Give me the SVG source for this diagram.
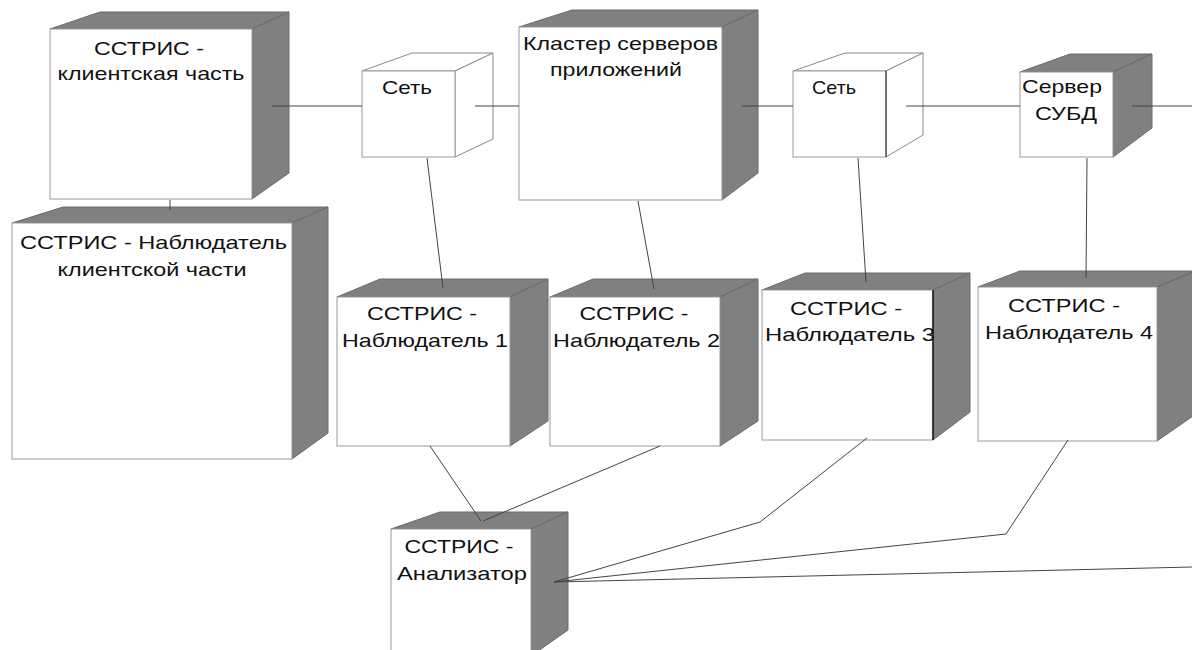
<svg xmlns="http://www.w3.org/2000/svg" width="1192" height="650" viewBox="0 0 1192 650">
<style>
.front{fill:#ffffff;stroke:#9a9a9a;stroke-width:1}
.shade{fill:#808080;stroke:#6a6a6a;stroke-width:1}
.open{fill:#ffffff;stroke:#8a8a8a;stroke-width:1}
.lbl{font-family:"Liberation Sans",Arial,sans-serif;font-size:19px;fill:#111}
.mid{text-anchor:middle}
.conn line,.conn polyline{stroke:#444;stroke-width:1;fill:none}
</style>
<rect width="1192" height="650" fill="#ffffff"/>

<g id="client">
<polygon class="shade" points="50,29 100,12 289,12 252,29"/>
<polygon class="shade" points="252,29 289,12 289,173 252,199"/>
<rect class="front" x="50" y="29" width="202" height="170"/>
<text class="lbl mid" x="149" y="55" textLength="110" lengthAdjust="spacingAndGlyphs">ССТРИС -</text>
<text class="lbl mid" x="151" y="80" textLength="187" lengthAdjust="spacingAndGlyphs">клиентская часть</text>
</g>

<g id="net1">
<polygon class="open" points="362,71 412,53 493,53 455,71"/>
<polygon class="open" points="455,71 493,53 493,139 455,157"/>
<rect class="front" x="362" y="71" width="93" height="86"/>
<text class="lbl mid" x="407" y="94" textLength="50" lengthAdjust="spacingAndGlyphs">Сеть</text>
</g>

<g id="cluster">
<polygon class="shade" points="519,27 572,10 758,10 722,27"/>
<polygon class="shade" points="722,27 758,10 758,173 722,200"/>
<rect class="front" x="519" y="27" width="203" height="173"/>
<text class="lbl" x="523" y="50" textLength="195" lengthAdjust="spacingAndGlyphs">Кластер серверов</text>
<text class="lbl mid" x="616" y="76" textLength="132" lengthAdjust="spacingAndGlyphs">приложений</text>
</g>

<g id="net2">
<polygon class="open" points="793,71 845,53 923,53 886,71"/>
<polygon class="open" points="886,71 923,53 923,135 886,157"/>
<rect class="front" x="793" y="71" width="93" height="86"/>
<line x1="886" y1="71" x2="886" y2="157" stroke="#222" stroke-width="1"/>
<text class="lbl mid" x="834" y="94" textLength="44" lengthAdjust="spacingAndGlyphs">Сеть</text>
</g>

<g id="dbserver">
<polygon class="shade" points="1020,72 1070,54 1152,54 1113,72"/>
<polygon class="shade" points="1113,72 1152,54 1152,128 1113,157"/>
<rect class="front" x="1020" y="72" width="93" height="85"/>
<text class="lbl" x="1022" y="93" textLength="80" lengthAdjust="spacingAndGlyphs">Сервер</text>
<text class="lbl mid" x="1066" y="120" textLength="62" lengthAdjust="spacingAndGlyphs">СУБД</text>
</g>

<g id="obsClient">
<polygon class="shade" points="12,223 63,207 328,207 292,223"/>
<polygon class="shade" points="292,223 328,207 328,433 292,459"/>
<rect class="front" x="12" y="223" width="280" height="236"/>
<text class="lbl" x="20" y="249" textLength="267" lengthAdjust="spacingAndGlyphs">ССТРИС - Наблюдатель</text>
<text class="lbl mid" x="152" y="276" textLength="189" lengthAdjust="spacingAndGlyphs">клиентской части</text>
</g>

<g id="obs1">
<polygon class="shade" points="337,297 380,279 548,279 510,297"/>
<polygon class="shade" points="510,297 548,279 548,421 510,446"/>
<rect class="front" x="337" y="297" width="173" height="149"/>
<text class="lbl mid" x="422" y="320" textLength="110" lengthAdjust="spacingAndGlyphs">ССТРИС -</text>
<text class="lbl" x="342" y="347" textLength="166" lengthAdjust="spacingAndGlyphs">Наблюдатель 1</text>
</g>

<g id="obs2">
<polygon class="shade" points="550,297 593,279 758,279 720,297"/>
<polygon class="shade" points="720,297 758,279 758,421 720,446"/>
<rect class="front" x="550" y="297" width="170" height="149"/>
<text class="lbl mid" x="634" y="320" textLength="109" lengthAdjust="spacingAndGlyphs">ССТРИС -</text>
<text class="lbl" x="553" y="347" textLength="167" lengthAdjust="spacingAndGlyphs">Наблюдатель 2</text>
</g>

<g id="obs3">
<polygon class="shade" points="762,290 805,273 970,273 933,290"/>
<polygon class="shade" points="933,290 970,273 970,412 933,440"/>
<rect class="front" x="762" y="290" width="171" height="150"/>
<line x1="933" y1="290" x2="933" y2="440" stroke="#111" stroke-width="1.5"/>
<text class="lbl mid" x="846" y="315" textLength="112" lengthAdjust="spacingAndGlyphs">ССТРИС -</text>
<text class="lbl" x="765" y="341" textLength="170" lengthAdjust="spacingAndGlyphs">Наблюдатель 3</text>
</g>

<g id="obs4">
<polygon class="shade" points="978,287 1020,271 1196,271 1157,287"/>
<polygon class="shade" points="1157,287 1196,271 1196,414 1157,441"/>
<rect class="front" x="978" y="287" width="179" height="154"/>
<text class="lbl mid" x="1064" y="312" textLength="112" lengthAdjust="spacingAndGlyphs">ССТРИС -</text>
<text class="lbl" x="985" y="339" textLength="168" lengthAdjust="spacingAndGlyphs">Наблюдатель 4</text>
</g>

<g id="analyzer">
<polygon class="shade" points="391,529 440,512 568,512 531,529"/>
<polygon class="shade" points="531,529 568,512 568,630 531,656"/>
<rect class="front" x="391" y="529" width="140" height="130"/>
<text class="lbl mid" x="459" y="553" textLength="109" lengthAdjust="spacingAndGlyphs">ССТРИС -</text>
<text class="lbl mid" x="462" y="580" textLength="130" lengthAdjust="spacingAndGlyphs">Анализатор</text>
</g>

<g id="connectors" class="conn">
<line x1="272" y1="106" x2="362" y2="106"/>
<line x1="475" y1="106" x2="519" y2="106"/>
<line x1="742" y1="106" x2="793" y2="106"/>
<line x1="906" y1="106" x2="1020" y2="106"/>
<line x1="1132" y1="106" x2="1192" y2="106"/>
<line x1="170" y1="200" x2="170" y2="210"/>
<line x1="427" y1="158" x2="443" y2="288"/>
<line x1="638" y1="201" x2="654" y2="289"/>
<line x1="858" y1="158" x2="866" y2="282"/>
<line x1="1087" y1="158" x2="1086" y2="278"/>
<line x1="430" y1="446" x2="481" y2="521"/>
<line x1="660" y1="446" x2="483" y2="521"/>
<polyline points="867,438 760,522 554,582"/>
<polyline points="1068,440 1006,534 554,582"/>
<line x1="1192" y1="567" x2="554" y2="582"/>
</g>
</svg>
